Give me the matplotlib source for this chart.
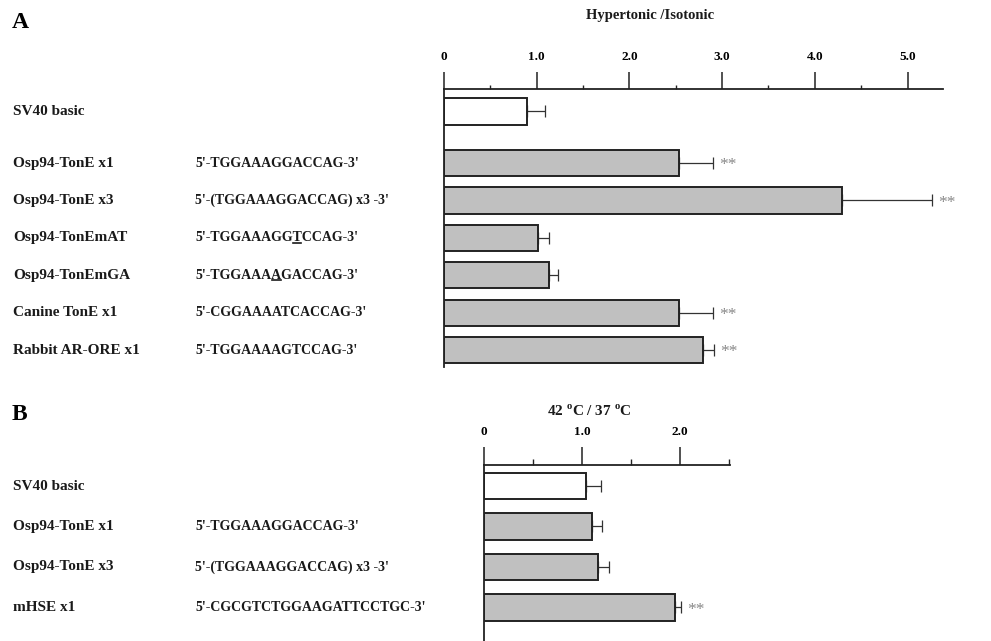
import numpy as np
import matplotlib
matplotlib.use("Agg")
import matplotlib.pyplot as plt
from matplotlib.ticker import MultipleLocator, FixedFormatter, FixedLocator
from matplotlib.transforms import blended_transform_factory
from matplotlib.font_manager import FontProperties
from matplotlib.lines import Line2D

plt.rcParams['font.family'] = ['Liberation Serif', 'DejaVu Serif']
plt.rcParams['mathtext.fontset'] = 'custom'
plt.rcParams['mathtext.rm'] = 'Liberation Serif'
plt.rcParams['mathtext.bf'] = 'Liberation Serif:bold'

# panel A data
names_a = ["SV40 basic", "Osp94-TonE x1", "Osp94-TonE x3", "Osp94-TonEmAT",
           "Osp94-TonEmGA", "Canine TonE x1", "Rabbit AR-ORE x1"]
seqs_a = ["", "5'-TGGAAAGGACCAG-3'", "5'-(TGGAAAGGACCAG) x3 -3'",
          "5'-TGGAAAGGTCCAG-3'", "5'-TGGAAAAGACCAG-3'",
          "5'-CGGAAAATCACCAG-3'", "5'-TGGAAAAGTCCAG-3'"]
underline_a = [None, None, None, 11, 9, None, None]   # index of underlined base
vals_a = [0.89, 2.53, 4.29, 1.01, 1.13, 2.53, 2.79]
errs_a = [0.20, 0.37, 0.97, 0.12, 0.10, 0.37, 0.12]
sig_a = [False, True, True, False, False, True, True]

# panel B data
names_b = ["SV40 basic", "Osp94-TonE x1", "Osp94-TonE x3", "mHSE x1"]
seqs_b = ["", "5'-TGGAAAGGACCAG-3'", "5'-(TGGAAAGGACCAG) x3 -3'",
          "5'-CGCGTCTGGAAGATTCCTGC-3'"]
vals_b = [1.04, 1.10, 1.16, 1.95]
errs_b = [0.15, 0.10, 0.11, 0.06]
sig_b = [False, False, False, True]

W, H = 991, 641
fig = plt.figure(figsize=(W / 100, H / 100), dpi=100)


def px_axes(x0, y0, x1, y1):
    return fig.add_axes([x0 / W, 1 - y1 / H, (x1 - x0) / W, (y1 - y0) / H])


def draw_panel(ax, ypos, vals, errs, sig, names, seqs, xmax, ylim, barh,
               majors, maj_labels, majlen, minlen):
    colors = ['white'] + ['#c0c0c0'] * (len(vals) - 1)
    ax.barh(ypos, vals, height=barh, color=colors, edgecolor='#222222',
            linewidth=1.4, zorder=2)
    ax.errorbar(vals, ypos, xerr=[np.zeros(len(errs)), errs], fmt='none',
                ecolor='#333333', elinewidth=0.9, capsize=4.5, capthick=0.9,
                zorder=1)
    for v, e, y, s in zip(vals, errs, ypos, sig):
        if s:
            ax.annotate("**", (v + e, y), xytext=(4.5, -4.5),
                        textcoords='offset points', va='baseline', ha='left',
                        fontsize=12.5, color='#888888')
    ax.set_xlim(0, xmax)
    ax.set_ylim(*ylim)
    for sp in ['right', 'bottom']:
        ax.spines[sp].set_visible(False)
    for sp in ['top', 'left']:
        ax.spines[sp].set_linewidth(1.3)
        ax.spines[sp].set_color('#222222')
    ax.set_yticks([])
    ax.xaxis.set_ticks_position('top')
    ax.xaxis.set_major_locator(FixedLocator(majors))
    ax.xaxis.set_major_formatter(FixedFormatter(maj_labels))
    ax.xaxis.set_minor_locator(MultipleLocator(0.5))
    ax.tick_params(axis='x', which='major', direction='out', length=majlen,
                   width=1.1, pad=6.5, labelsize=9.5, color='#222222')
    ax.tick_params(axis='x', which='minor', direction='out', length=minlen,
                   width=1.0, color='#222222')
    for lab in ax.get_xticklabels():
        lab.set_fontweight('bold')
    tr = blended_transform_factory(fig.transFigure, ax.transData)
    texts = []
    for n, s, y in zip(names, seqs, ypos):
        ax.text(13 / W, y, n, transform=tr, va='center', ha='left',
                fontsize=11, fontweight='bold', color='#1a1a1a')
        t = ax.text(195 / W, y, s, transform=tr, va='center', ha='left',
                    fontsize=10, fontweight='bold', color='#1a1a1a')
        texts.append(t)
    return texts


# panel A
axA = px_axes(444, 89, 943, 367)
ypos_a = np.r_[0, 1.38 + np.arange(6)]
texts_a = draw_panel(axA, ypos_a, vals_a, errs_a, sig_a, names_a, seqs_a,
                     499 / 92.7, (6.83, -0.6), 0.7,
                     [0, 1, 2, 3, 4, 5], ["0", "1.0", "2.0", "3.0", "4.0", "5.0"],
                     12.2, 3.2)
axA.text(0.413, 1 + 73 / 278, "Hypertonic /Isotonic", transform=axA.transAxes,
         ha='center', va='center', fontsize=10.5, fontweight='bold', color='#1a1a1a')

# panel B
axB = px_axes(484.3, 465, 730, 641)
ypos_b = np.arange(4)
draw_panel(axB, ypos_b, vals_b, errs_b, sig_b, names_b, seqs_b,
           245.7 / 97.8, (3.83, -0.52), 0.66,
           [0, 1, 2], ["0", "1.0", "2.0"], 13, 4.3)
axB.text(0.426, 1 + 54.3 / 176, r"42 $^{\mathbf{o}}$C / 37 $^{\mathbf{o}}$C",
         transform=axB.transAxes, ha='center', va='center', fontsize=11,
         fontweight='bold', color='#1a1a1a')

fig.text(12 / W, 1 - 23 / H, "A", fontsize=17, fontweight='bold', va='center')
fig.text(12 / W, 1 - 415 / H, "B", fontsize=17, fontweight='bold', va='center')

# underline the mutated base
fig.canvas.draw()
rend = fig.canvas.get_renderer()
fp = FontProperties(family='Liberation Serif', weight='bold', size=10)
for t, idx in zip(texts_a, underline_a):
    if idx is None:
        continue
    s = t.get_text()
    w0 = rend.get_text_width_height_descent(s[:idx], fp, False)[0]
    w1 = rend.get_text_width_height_descent(s[:idx + 1], fp, False)[0]
    bb = t.get_window_extent(rend)
    yb = bb.y0 + 1.5
    fig.add_artist(Line2D([(bb.x0 + w0 + 0.5) / W, (bb.x0 + w1 - 0.5) / W],
                          [yb / H, yb / H], transform=fig.transFigure,
                          color='#1a1a1a', lw=1.2))

fig.savefig("out.png", dpi=100)
